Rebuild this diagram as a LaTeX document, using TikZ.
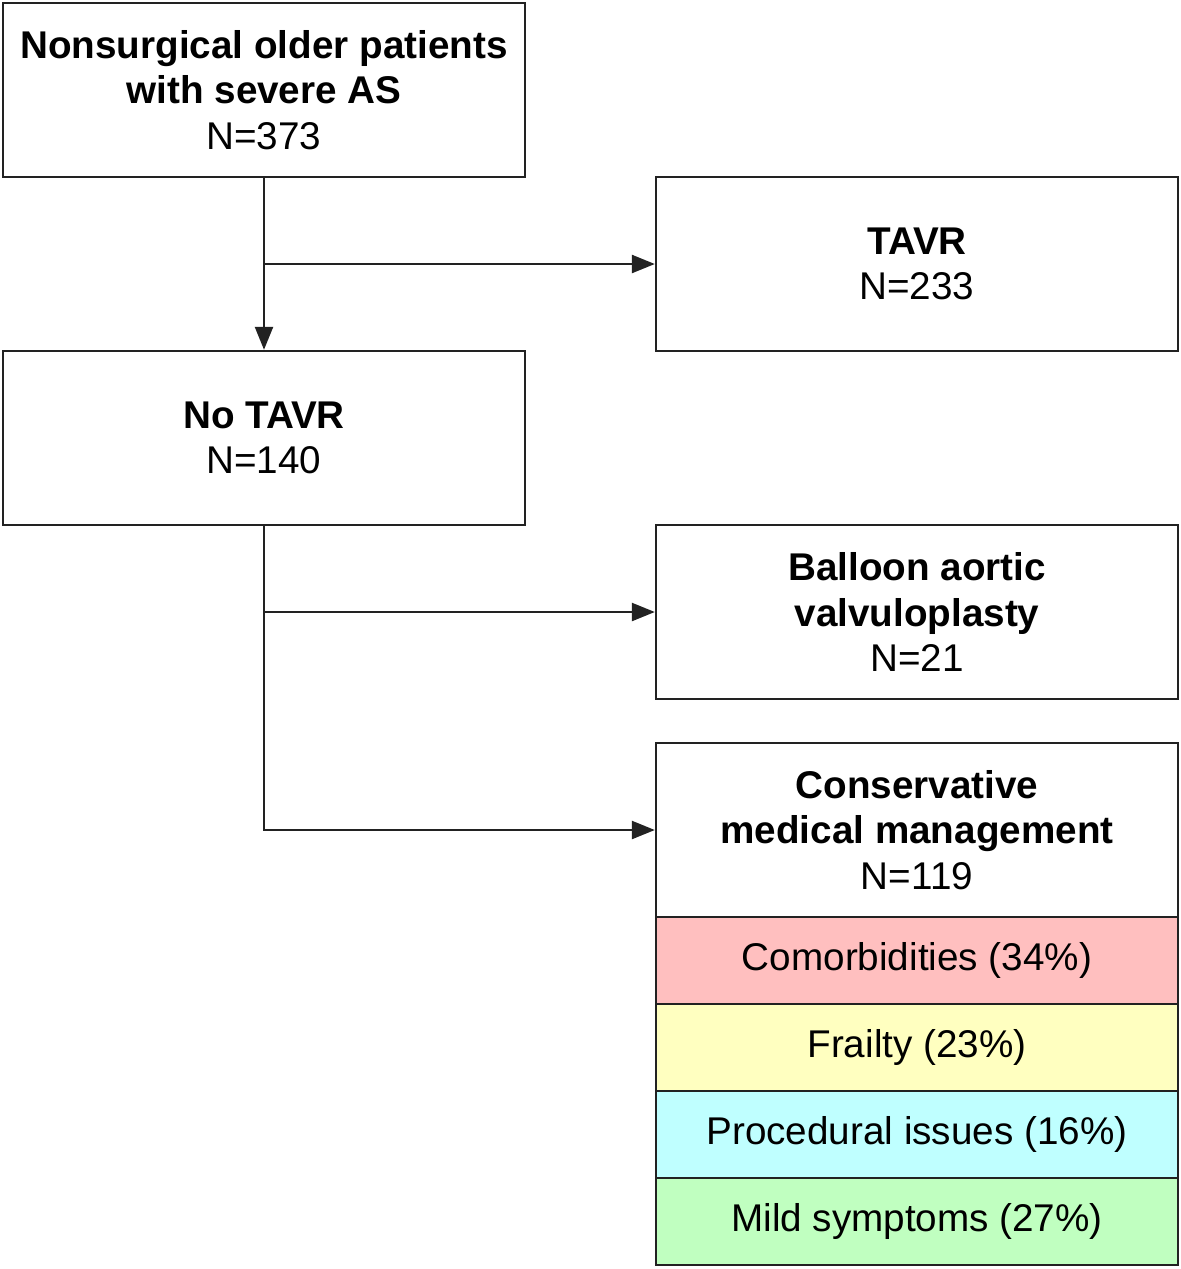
\documentclass[tikz,border=0pt]{standalone}
\usepackage{fontspec}
\setmainfont{Liberation Sans}
\usetikzlibrary{arrows.meta}
\definecolor{comorbred}{HTML}{FFBFBF}
\definecolor{frailyellow}{HTML}{FFFFC0}
\definecolor{proccyan}{HTML}{BFFFFF}
\definecolor{mildgreen}{HTML}{C0FFC0}
\definecolor{linegray}{HTML}{222222}

\begin{document}
\begin{tikzpicture}[x=0.02cm,y=-0.02cm,
    font=\fontsize{22}{26}\selectfont,
    box/.style={draw=linegray,line width=1.4pt,align=center,
      minimum width=10.44cm,minimum height=3.48cm,inner sep=0pt},
    reason/.style={box,minimum height=1.74cm},
    flow/.style={draw=linegray,line width=1.4pt,
      -{Triangle[length=0.46cm,width=0.36cm]}}]
  % Frame: one unit is one pixel of the reference.
  \useasboundingbox (0,0) rectangle (1181,1269);

  % Main boxes.
  \node[box] (start) at (264,90)
    {\textbf{Nonsurgical older patients}\\\textbf{with severe AS}\\N=373};
  \node[box] (tavr) at (917,264) {\textbf{TAVR}\\N=233};
  \node[box] (notavr) at (264,438) {\textbf{No TAVR}\\N=140};
  \node[box] (bav) at (917,612)
    {\textbf{Balloon aortic}\\\textbf{valvuloplasty}\\N=21};
  \node[box] (cmm) at (917,830)
    {\textbf{Conservative}\\\textbf{medical management}\\N=119};

  % Reasons for conservative management.
  \node[reason,fill=comorbred] (comorb) at (917,960.5) {Comorbidities (34\%)};
  \node[reason,fill=frailyellow] (frail) at (917,1047.5) {Frailty (23\%)};
  \node[reason,fill=proccyan] (proc) at (917,1134.5) {Procedural issues (16\%)};
  \node[reason,fill=mildgreen] (mild) at (917,1221.5) {Mild symptoms (27\%)};

  % Connectors.
  \draw[flow] (start.south) -- (notavr.north);
  \draw[flow] (start.south |- tavr.west) -- (tavr.west);
  \draw[flow] (notavr.south |- bav.west) -- (bav.west);
  \draw[flow] (notavr.south) |- (cmm.west);
\end{tikzpicture}
\end{document}
